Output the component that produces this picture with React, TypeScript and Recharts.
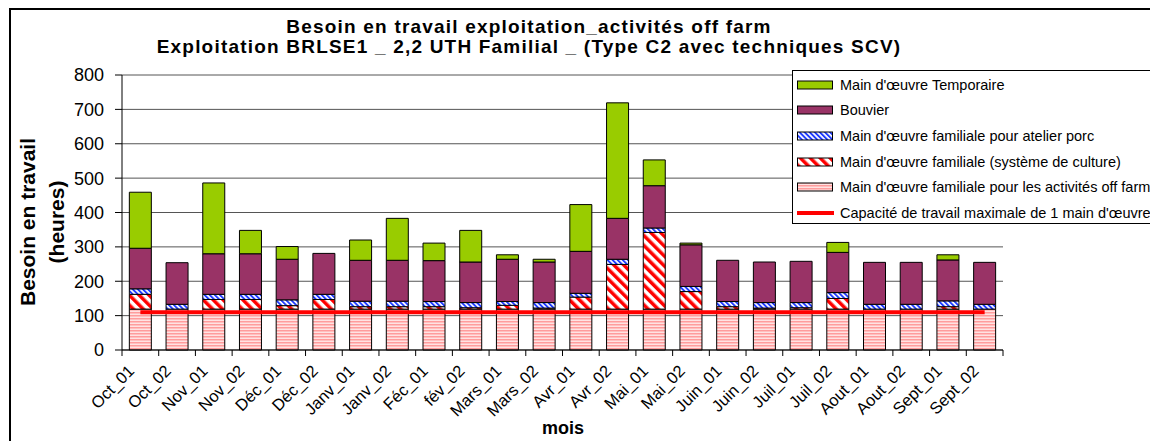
import React from "react"
import { Bar, CartesianGrid, ComposedChart, Line, XAxis, YAxis } from "recharts"

const months = [
  "Oct_01", "Oct_02", "Nov_01", "Nov_02", "Déc_01", "Déc_02", "Janv_01", "Janv_02",
  "Féc_01", "fév_02", "Mars_01", "Mars_02", "Avr_01", "Avr_02", "Mai_01", "Mai_02",
  "Juin_01", "Juin_02", "Juil_01", "Juil_02", "Aout_01", "Aout_02", "Sept_01", "Sept_02",
]

// stacked from the bottom up
const offFarm = [119, 119, 119, 119, 119, 119, 119, 119, 119, 119, 119, 119, 119, 119, 119, 119, 119, 119, 119, 119, 119, 119, 119, 119]
const culture = [43, 0, 28, 28, 10, 28, 7, 7, 7, 4, 11, 3, 35, 130, 223, 51, 7, 3, 4, 31, 0, 0, 7, 0]
const porc = [16, 14, 15, 15, 17, 15, 16, 16, 15, 15, 11, 16, 11, 15, 13, 15, 15, 16, 15, 17, 14, 14, 17, 14]
const bouvier = [118, 121, 118, 118, 118, 119, 119, 119, 119, 118, 123, 118, 122, 119, 123, 121, 120, 118, 120, 117, 122, 122, 119, 122]
const temporaire = [163, 0, 206, 68, 37, 0, 59, 122, 51, 92, 13, 8, 136, 336, 75, 5, 0, 0, 0, 29, 0, 0, 15, 0]
const capacite = [110, 110, 110, 110, 110, 110, 110, 110, 110, 110, 110, 110, 110, 110, 110, 110, 110, 110, 110, 110, 110, 110, 110, 110]

const yTicks = [0, 100, 200, 300, 400, 500, 600, 700, 800]

const data = months.map((month, i) => ({
  month,
  offFarm: offFarm[i],
  culture: culture[i],
  porc: porc[i],
  bouvier: bouvier[i],
  temporaire: temporaire[i],
  capacite: capacite[i],
}))

const legendItems = [
  { label: "Main d'œuvre Temporaire", fill: "#99cc00" },
  { label: "Bouvier", fill: "#993366" },
  { label: "Main d'œuvre familiale pour atelier porc", fill: "url(#pPorc)" },
  { label: "Main d'œuvre familiale (système de culture)", fill: "url(#pCult)" },
  { label: "Main d'œuvre familiale pour les activités off farm", fill: "url(#pOff)" },
  { label: "Capacité de travail maximale de 1 main d'œuvre", line: true },
]

const W = 1150
const H = 441
const margin = { top: 75, right: 147, bottom: 31, left: 0 }
const yAxisWidth = 122
const xAxisHeight = 60
const band = (W - margin.left - margin.right - yAxisWidth) / months.length
const font = "'Liberation Sans', Arial, sans-serif"

const MonthTick = (props: any) => {
  const { x, y, payload, index } = props
  const half = band / 2
  const ax = x - 5
  const ay = y + 22
  return (
    <g>
      <line x1={x - half} y1={y} x2={x - half} y2={y + 6} stroke="#000" />
      {index === months.length - 1 && <line x1={x + half} y1={y} x2={x + half} y2={y + 6} stroke="#000" />}
      <text
        x={ax}
        y={ay}
        transform={`rotate(-45, ${ax}, ${ay})`}
        textAnchor="end"
        fontSize={16.5}
        fontFamily={font}
        fill="#000"
      >
        {payload.value}
      </text>
    </g>
  )
}

function Patterns() {
  return (
    <svg width={0} height={0} style={{ position: "absolute" }}>
      <defs>
        <pattern id="pOff" width={4} height={3} patternUnits="userSpaceOnUse">
          <rect width={4} height={3} fill="#ffe2e2" />
          <rect width={4} height={1.5} fill="#ff9c9c" />
        </pattern>
        <pattern id="pCult" width={7} height={7} patternUnits="userSpaceOnUse" patternTransform="rotate(-45)">
          <rect width={7} height={7} fill="#fff" />
          <rect width={3.5} height={7} fill="#ff0000" />
        </pattern>
        <pattern id="pPorc" width={3.6} height={3.6} patternUnits="userSpaceOnUse" patternTransform="rotate(-45)">
          <rect width={3.6} height={3.6} fill="#fff" />
          <rect width={1.9} height={3.6} fill="#1f3cff" />
        </pattern>
      </defs>
    </svg>
  )
}

export default function App() {
  return (
    <div style={{ position: "absolute", left: 0, top: 0, width: W, height: H, background: "#fff", overflow: "hidden", fontFamily: font }}>
      <Patterns />
      <ComposedChart width={W} height={H} data={data} margin={margin} barCategoryGap="20%">
        <CartesianGrid vertical={false} stroke="#555" />
        <XAxis
          dataKey="month"
          interval={0}
          height={xAxisHeight}
          tickLine={false}
          tickSize={0}
          tickMargin={0}
          axisLine={{ stroke: "#000" }}
          tick={<MonthTick />}
        />
        <YAxis
          domain={[0, 800]}
          ticks={yTicks}
          width={yAxisWidth}
          axisLine={{ stroke: "#000" }}
          tickLine={{ stroke: "#000" }}
          tickSize={7}
          tickMargin={11}
          tick={{ fill: "#000", fontSize: 18, fontFamily: font }}
        />
        <YAxis yAxisId="right" orientation="right" domain={[0, 800]} width={0} tick={false} tickLine={false} axisLine={{ stroke: "#999" }} />
        <Bar dataKey="offFarm" stackId="a" fill="url(#pOff)" stroke="#000" strokeWidth={1} isAnimationActive={false} />
        <Bar dataKey="culture" stackId="a" fill="url(#pCult)" stroke="#000" strokeWidth={1} isAnimationActive={false} />
        <Bar dataKey="porc" stackId="a" fill="url(#pPorc)" stroke="#000" strokeWidth={1} isAnimationActive={false} />
        <Bar dataKey="bouvier" stackId="a" fill="#993366" stroke="#000" strokeWidth={1} isAnimationActive={false} />
        <Bar dataKey="temporaire" stackId="a" fill="#99cc00" stroke="#000" strokeWidth={1} isAnimationActive={false} />
        <Line dataKey="capacite" type="linear" stroke="#ff0000" strokeWidth={4} dot={false} activeDot={false} isAnimationActive={false} />
      </ComposedChart>

      <div style={{ position: "absolute", left: 0, top: 17, width: 1058, textAlign: "center", fontWeight: "bold", fontSize: 19, lineHeight: "20px", letterSpacing: 1.2, color: "#000" }}>
        <div>Besoin en travail exploitation_activités off farm</div>
        <div>Exploitation BRLSE1 _ 2,2 UTH Familial _ (Type C2 avec techniques SCV)</div>
      </div>

      <div
        style={{
          position: "absolute",
          left: 43 - 150,
          top: 222 - 30,
          width: 300,
          height: 60,
          transform: "rotate(-90deg)",
          textAlign: "center",
          fontWeight: "bold",
          fontSize: 21,
          lineHeight: "29px",
          color: "#000",
        }}
      >
        <div>Besoin en travail</div>
        <div>(heures)</div>
      </div>

      <div style={{ position: "absolute", left: 513, top: 418, width: 100, textAlign: "center", fontWeight: "bold", fontSize: 18, color: "#000" }}>
        mois
      </div>

      <div
        style={{
          position: "absolute",
          left: 792,
          top: 70,
          width: 420,
          height: 154,
          boxSizing: "border-box",
          border: "1px solid #000",
          background: "#fff",
          paddingTop: 1,
          paddingLeft: 4,
        }}
      >
        {legendItems.map((item) => (
          <div key={item.label} style={{ display: "flex", alignItems: "center", height: 25.6, fontSize: 14.5, color: "#000", whiteSpace: "nowrap" }}>
            <svg width={37} height={10} style={{ marginRight: 6, flexShrink: 0 }}>
              {item.line ? (
                <line x1={0} y1={5} x2={37} y2={5} stroke="#ff0000" strokeWidth={4} />
              ) : (
                <rect x={0.5} y={1} width={35} height={8} fill={item.fill} stroke="#000" strokeWidth={1} />
              )}
            </svg>
            <span>{item.label}</span>
          </div>
        ))}
      </div>

      <div style={{ position: "absolute", left: 9, top: 8, width: W, height: H, boxSizing: "border-box", border: "2px solid #000", pointerEvents: "none" }} />
    </div>
  )
}
